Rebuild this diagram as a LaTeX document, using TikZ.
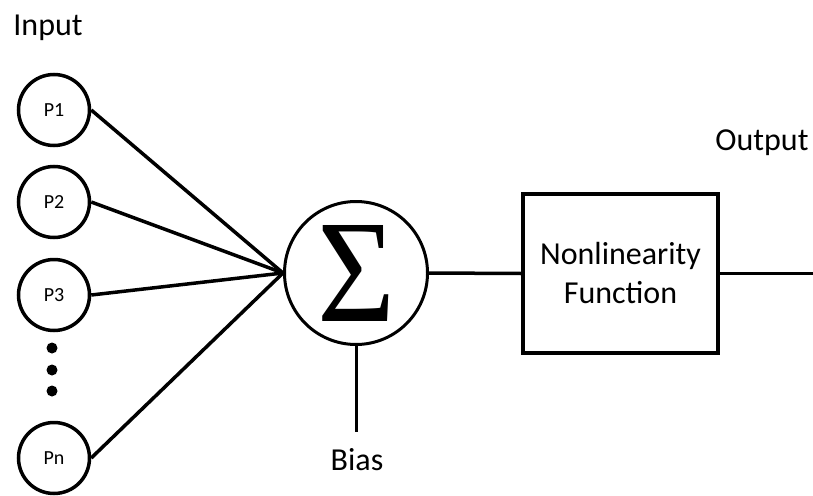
\documentclass[tikz,border=0pt]{standalone}
\usepackage{fontspec}
\setmainfont{Carlito}
\newfontfamily\sigmafont{Liberation Serif}
\begin{document}
\begin{tikzpicture}[x=1pt,y=-1pt,
  inp/.style={circle,draw,line width=3.5pt,minimum size=71pt,inner sep=0pt,font=\fontsize{20}{24}\selectfont},
  wire/.style={line width=3.5pt},
  lbl/.style={font=\fontsize{32}{39}\selectfont}]
\useasboundingbox (0,0) rectangle (813,495);
% inputs
\node[lbl] (tin) at (48,28) {Input};
\node[inp] (p1) at (54,110) {P1};
\node[inp] (p2) at (54,202) {P2};
\node[inp] (p3) at (54,295) {P3};
\node[inp] (pn) at (54,458) {Pn};
\fill (52,348) circle (5.5) (52,370) circle (5.5) (52,391) circle (5.5);
% summation unit
\node[circle,draw,line width=3pt,minimum size=143pt,inner sep=0pt] (sig) at (356,273) {};
\node[inner sep=0pt] (sym) at (356,273) {\resizebox{78pt}{96pt}{\sigmafont Σ}};
\coordinate (bend) at (356,432);
\node[lbl] (bias) at (357,460) {Bias};
% nonlinearity
\node[draw,line width=3.5pt,minimum width=195pt,minimum height=159pt,inner sep=0pt,lbl,align=center] (nl) at (620.5,273.5) {Nonlinearity\\Function};
\coordinate (out) at (813,273.5);
\node[lbl] (tout) at (762,143) {Output};
% connectors
\foreach \p in {p1,p2,p3,pn} \draw[wire] (\p.east) -- (sig.west);
\draw[line width=3pt] (sig.south) -- (bend);
\draw[wire] (sig.east) -- (nl.west);
\draw[wire] (nl.east) -- (out);
\end{tikzpicture}
\end{document}
